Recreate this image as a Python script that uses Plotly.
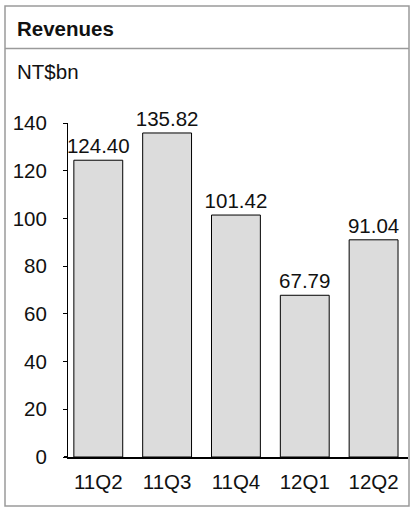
import plotly.graph_objects as go

categories = ["11Q2", "11Q3", "11Q4", "12Q1", "12Q2"]
revenues = [124.40, 135.82, 101.42, 67.79, 91.04]
value_labels = ["124.40", "135.82", "101.42", "67.79", "91.04"]
y_ticks = [0, 20, 40, 60, 80, 100, 120, 140]

W, H = 414, 514
L, R, T, B = 68, 6, 123, 57
FS = 20.5

fig = go.Figure(
    go.Bar(
        x=list(range(len(categories))),
        y=revenues,
        text=value_labels,
        textposition="outside",
        constraintext="none",
        textfont=dict(size=FS, color="#111"),
        marker=dict(color="#dcdcdc", line=dict(color="black", width=1)),
        width=0.71,
        cliponaxis=False,
        hoverinfo="skip",
    )
)

fig.update_layout(
    width=W, height=H,
    margin=dict(l=L, r=R, t=T, b=B, pad=0),
    paper_bgcolor="white", plot_bgcolor="white",
    font=dict(family="Liberation Sans, Arial, sans-serif", size=FS, color="#111"),
    showlegend=False,
    xaxis=dict(
        range=[-0.44, 4.5],
        tickmode="array",
        tickvals=list(range(len(categories))),
        ticktext=categories,
        showline=True, linecolor="black", linewidth=2,
        ticks="", showgrid=False, zeroline=False,
        ticklabelstandoff=5,
        tickfont=dict(size=FS),
        fixedrange=True,
    ),
    yaxis=dict(
        range=[0, 140],
        tickmode="array",
        tickvals=y_ticks,
        showline=True, linecolor="black", linewidth=1,
        ticks="outside", ticklen=4, tickcolor="black",
        showgrid=False, zeroline=False,
        ticklabelstandoff=12,
        tickfont=dict(size=FS),
        fixedrange=True,
    ),
    shapes=[
        dict(type="rect", xref="paper", yref="paper",
             x0=(5 - L) / (W - L - R), x1=(409 - L) / (W - L - R),
             y0=(H - B - 506) / (H - T - B), y1=(H - B - 6) / (H - T - B),
             line=dict(color="#9a9a9a", width=1.5), layer="below"),
        dict(type="line", xref="paper", yref="paper",
             x0=(5 - L) / (W - L - R), x1=(409 - L) / (W - L - R),
             y0=(H - B - 48.5) / (H - T - B), y1=(H - B - 48.5) / (H - T - B),
             line=dict(color="#9a9a9a", width=1.5)),
        dict(type="line", xref="paper", yref="y",
             x0=(64 - L) / (W - L - R), x1=0, y0=0, y1=0,
             line=dict(color="black", width=2)),
    ],
    annotations=[
        dict(text="<b>Revenues</b>", xref="paper", yref="paper",
             x=(15 - L) / (W - L - R), y=(H - B - 29) / (H - T - B),
             xanchor="left", yanchor="middle", showarrow=False,
             font=dict(size=FS, color="#111")),
        dict(text="NT$bn", xref="paper", yref="paper",
             x=(15 - L) / (W - L - R), y=(H - B - 71) / (H - T - B),
             xanchor="left", yanchor="middle", showarrow=False,
             font=dict(size=FS, color="#111")),
    ],
)

fig.write_html(
    "out.html",
    config={"displayModeBar": False},
    post_script="document.body.style.margin='0';document.body.style.overflow='hidden';",
)
